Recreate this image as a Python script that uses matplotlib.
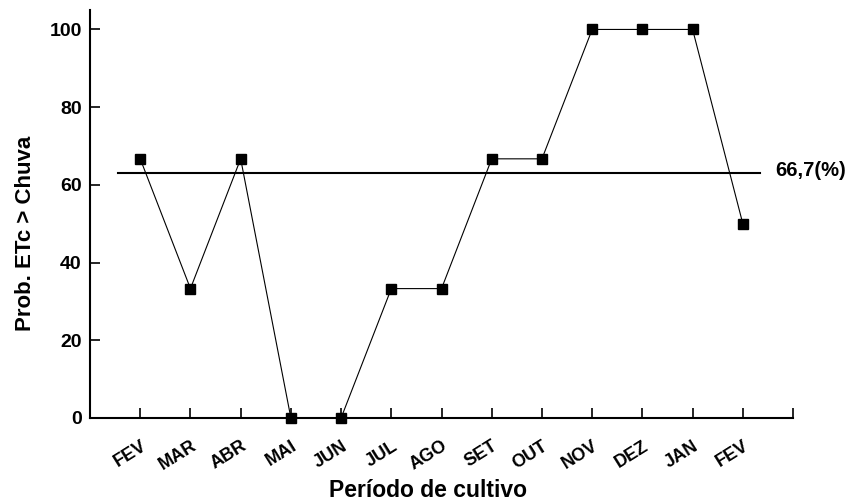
import matplotlib.pyplot as plt

plt.rcParams['font.family'] = ['Liberation Sans', 'DejaVu Sans']
plt.rcParams['font.weight'] = 'bold'

# --- data ---
meses = ["FEV", "MAR", "ABR", "MAI", "JUN", "JUL", "AGO",
         "SET", "OUT", "NOV", "DEZ", "JAN", "FEV"]
prob = [66.7, 33.3, 66.7, 0, 0, 33.3, 33.3, 66.7, 66.7, 100, 100, 100, 50]
limite_x = [0.55, 13.35]
limite_y = [63.0, 63.0]
limite_txt = "66,7(%)"

pos = list(range(1, len(meses) + 1))

fig = plt.figure(figsize=(8.46, 5.01), dpi=100)
ax = fig.add_axes([0.1064, 0.1657, 0.8310, 0.8143])

ax.plot(pos, prob, color="black", lw=0.8, marker="s", ms=7.5,
        mfc="black", mec="black", clip_on=False, zorder=3)
ax.plot(limite_x, limite_y, color="black", lw=1.5, clip_on=False)
ax.text(13.65, limite_y[1] + 0.8, limite_txt, fontsize=14.5, fontweight="bold",
        va="center", ha="left")

ax.set_xlim(0, 14)
ax.set_ylim(0, 105)
ax.set_xticks(pos + [14])
ax.set_xticklabels(meses + [""], rotation=32, ha="right",
                   rotation_mode="anchor", fontsize=13, fontweight="bold")
ax.set_yticks([0, 20, 40, 60, 80, 100])
ax.tick_params(axis="y", labelsize=14, direction="in", length=7, width=1.2, pad=6)
ax.tick_params(axis="x", direction="in", length=7, width=1.2, pad=14)
for lbl in ax.get_yticklabels():
    lbl.set_fontweight("bold")

for s in ["top", "right"]:
    ax.spines[s].set_visible(False)
for s in ["left", "bottom"]:
    ax.spines[s].set_linewidth(1.5)

ax.set_xlabel("Período de cultivo", fontsize=16.5, fontweight="bold")
ax.set_ylabel("Prob. ETc > Chuva", fontsize=16, fontweight="bold")
ax.xaxis.set_label_coords(0.481, -0.149)
ax.yaxis.set_label_coords(-0.077, 0.453)

fig.savefig("out.png", dpi=100)
